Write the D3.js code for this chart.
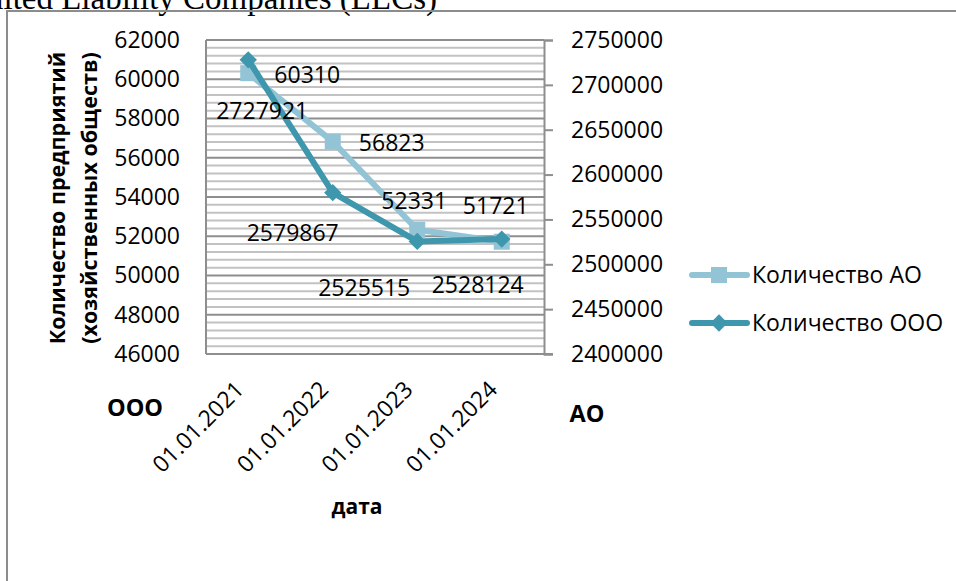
<!DOCTYPE html>
<html><head><meta charset="utf-8">
<script src="https://cdn.jsdelivr.net/npm/d3@7"></script>
<style>body{margin:0;background:#fff;overflow:hidden}svg{display:block}</style>
</head><body><svg id="c" width="956" height="581"></svg>
<script>
const categories = ["01.01.2021","01.01.2022","01.01.2023","01.01.2024"];
const aoValues = [60310, 56823, 52331, 51721];
const oooValues = [2727921, 2579867, 2525515, 2528124];
const leftTicks = [46000,48000,50000,52000,54000,56000,58000,60000,62000];
const rightTicks = [2400000,2450000,2500000,2550000,2600000,2650000,2700000,2750000];
const seriesNames = ["Количество АО","Количество ООО"];
// label offsets from marker to label centre (style)
const aoLabelOffsets = [[59,2],[59,1],[-3,-29],[-6,-36]];
const oooLabelOffsets = [[14,51],[-40,40],[-53,47],[-24,46]];

const FONT = "'Open Sans', 'Noto Sans', sans-serif";
const FS = 23;
const cAO = "#93c4d5", cOOO = "#3f97ad";
const svg = d3.select("#c");
const L=206, T=40, R=544, B=354;

// top cut text
svg.append("text").attr("x",437).attr("y",9).attr("text-anchor","end")
  .attr("font-family","'Liberation Serif','Times New Roman',serif").attr("font-size",33)
  .text("Limited Liability Companies (LLCs)");
// frame
svg.append("rect").attr("x",7).attr("y",11).attr("width",1000).attr("height",700)
  .attr("fill","none").attr("stroke","#8c8c8c").attr("stroke-width",2);

const x = d3.scaleBand().domain(categories).range([L,R]);
const xc = d => x(d)+x.bandwidth()/2;
const yL = d3.scaleLinear().domain([46000,62000]).range([B,T]);
const yR = d3.scaleLinear().domain([2400000,2750000]).range([B,T]);

// gridlines
const minor = d3.range(46000, 62001, 400);
svg.append("g").selectAll("line").data(minor.filter(v=>v%2000!==0)).join("line")
  .attr("x1",L).attr("x2",R).attr("y1",d=>yL(d)).attr("y2",d=>yL(d))
  .attr("stroke","#c2c2c2").attr("stroke-width",2);
svg.append("g").selectAll("line").data(leftTicks).join("line")
  .attr("x1",L).attr("x2",R).attr("y1",d=>yL(d)).attr("y2",d=>yL(d))
  .attr("stroke","#8e8e8e").attr("stroke-width",2);

// axes lines
svg.append("line").attr("x1",L).attr("x2",L).attr("y1",T).attr("y2",B).attr("stroke","#8e8e8e").attr("stroke-width",2);
// right axis
const ra = svg.append("g").attr("transform",`translate(${R},0)`)
  .call(d3.axisRight(yR).tickValues(rightTicks).tickSize(9).tickPadding(18).tickFormat(d3.format("d")));
ra.select(".domain").attr("stroke","#8e8e8e").attr("stroke-width",2);
ra.selectAll(".tick line").attr("stroke","#8e8e8e").attr("stroke-width",2);
ra.selectAll("text").attr("font-family",FONT).attr("font-size",FS).attr("fill","#000");
// left axis labels
const la = svg.append("g").attr("transform",`translate(${L},0)`)
  .call(d3.axisLeft(yL).tickValues(leftTicks).tickSize(0).tickPadding(26).tickFormat(d3.format("d")));
la.select(".domain").remove();
la.selectAll("text").attr("font-family",FONT).attr("font-size",FS).attr("fill","#000");
// bottom axis
svg.append("line").attr("x1",L).attr("x2",R+9).attr("y1",B).attr("y2",B).attr("stroke","#8e8e8e").attr("stroke-width",2);
svg.append("g").selectAll("text").data(categories).join("text")
  .attr("transform",d=>`translate(${xc(d)-3},${B+37}) rotate(-45)`)
  .attr("text-anchor","end").attr("font-family",FONT).attr("font-size",FS).text(d=>d);

// lines
const lineAO = d3.line().x((d,i)=>xc(categories[i])).y(d=>yL(d));
const lineOOO = d3.line().x((d,i)=>xc(categories[i])).y(d=>yR(d));
svg.append("path").attr("d",lineAO(aoValues)).attr("fill","none").attr("stroke",cAO).attr("stroke-width",6).attr("stroke-linejoin","round");
svg.append("g").selectAll("rect").data(aoValues).join("rect")
  .attr("x",(d,i)=>xc(categories[i])-8).attr("y",d=>yL(d)-8).attr("width",16).attr("height",16).attr("fill",cAO);
svg.append("path").attr("d",lineOOO(oooValues)).attr("fill","none").attr("stroke",cOOO).attr("stroke-width",6).attr("stroke-linejoin","round");
svg.append("g").selectAll("path").data(oooValues).join("path")
  .attr("d",d3.symbol().type(d3.symbolSquare).size(150)())
  .attr("transform",(d,i)=>`translate(${xc(categories[i])},${yR(d)}) rotate(45)`)
  .attr("fill",cOOO);

// data labels
svg.append("g").selectAll("text").data(aoValues).join("text")
  .attr("x",(d,i)=>xc(categories[i])+aoLabelOffsets[i][0]).attr("y",(d,i)=>yL(d)+aoLabelOffsets[i][1])
  .attr("dy","0.35em").attr("text-anchor","middle").attr("font-family",FONT).attr("font-size",FS).text(d=>d);
svg.append("g").selectAll("text").data(oooValues).join("text")
  .attr("x",(d,i)=>xc(categories[i])+oooLabelOffsets[i][0]).attr("y",(d,i)=>yR(d)+oooLabelOffsets[i][1])
  .attr("dy","0.35em").attr("text-anchor","middle").attr("font-family",FONT).attr("font-size",FS).text(d=>d);

// axis titles
const yt = svg.append("text").attr("transform","translate(57,198) rotate(-90)")
  .attr("text-anchor","middle").attr("font-family",FONT).attr("font-size",21.5).attr("font-weight","bold");
yt.append("tspan").attr("x",0).attr("dy","0.35em").text("Количество предприятий");
yt.append("tspan").attr("x",0).attr("dy","1.52em").text("(хозяйственных обществ)");
svg.append("text").attr("x",135).attr("y",408).attr("dy","0.35em").attr("text-anchor","middle")
  .attr("font-family",FONT).attr("font-size",23.5).attr("font-weight","bold").text("ООО");
svg.append("text").attr("x",587).attr("y",414).attr("dy","0.35em").attr("text-anchor","middle")
  .attr("font-family",FONT).attr("font-size",23.5).attr("font-weight","bold").text("АО");
svg.append("text").attr("x",357).attr("y",507).attr("dy","0.35em").attr("text-anchor","middle")
  .attr("font-family",FONT).attr("font-size",21).attr("font-weight","bold").text("дата");

// legend
const leg = svg.append("g");
const legY = [275, 323];
leg.append("line").attr("x1",692).attr("x2",747).attr("y1",legY[0]).attr("y2",legY[0]).attr("stroke",cAO).attr("stroke-width",6).attr("stroke-linecap","round");
leg.append("rect").attr("x",711).attr("y",legY[0]-8).attr("width",16).attr("height",16).attr("fill",cAO);
leg.append("line").attr("x1",692).attr("x2",747).attr("y1",legY[1]).attr("y2",legY[1]).attr("stroke",cOOO).attr("stroke-width",6).attr("stroke-linecap","round");
leg.append("path").attr("d",d3.symbol().type(d3.symbolSquare).size(150)()).attr("transform",`translate(719,${legY[1]}) rotate(45)`).attr("fill",cOOO);
leg.selectAll("text.l").data(seriesNames).join("text").attr("class","l")
  .attr("x",752).attr("y",(d,i)=>legY[i]).attr("dy","0.35em").attr("font-family",FONT).attr("font-size",FS).text(d=>d);
</script></body></html>
